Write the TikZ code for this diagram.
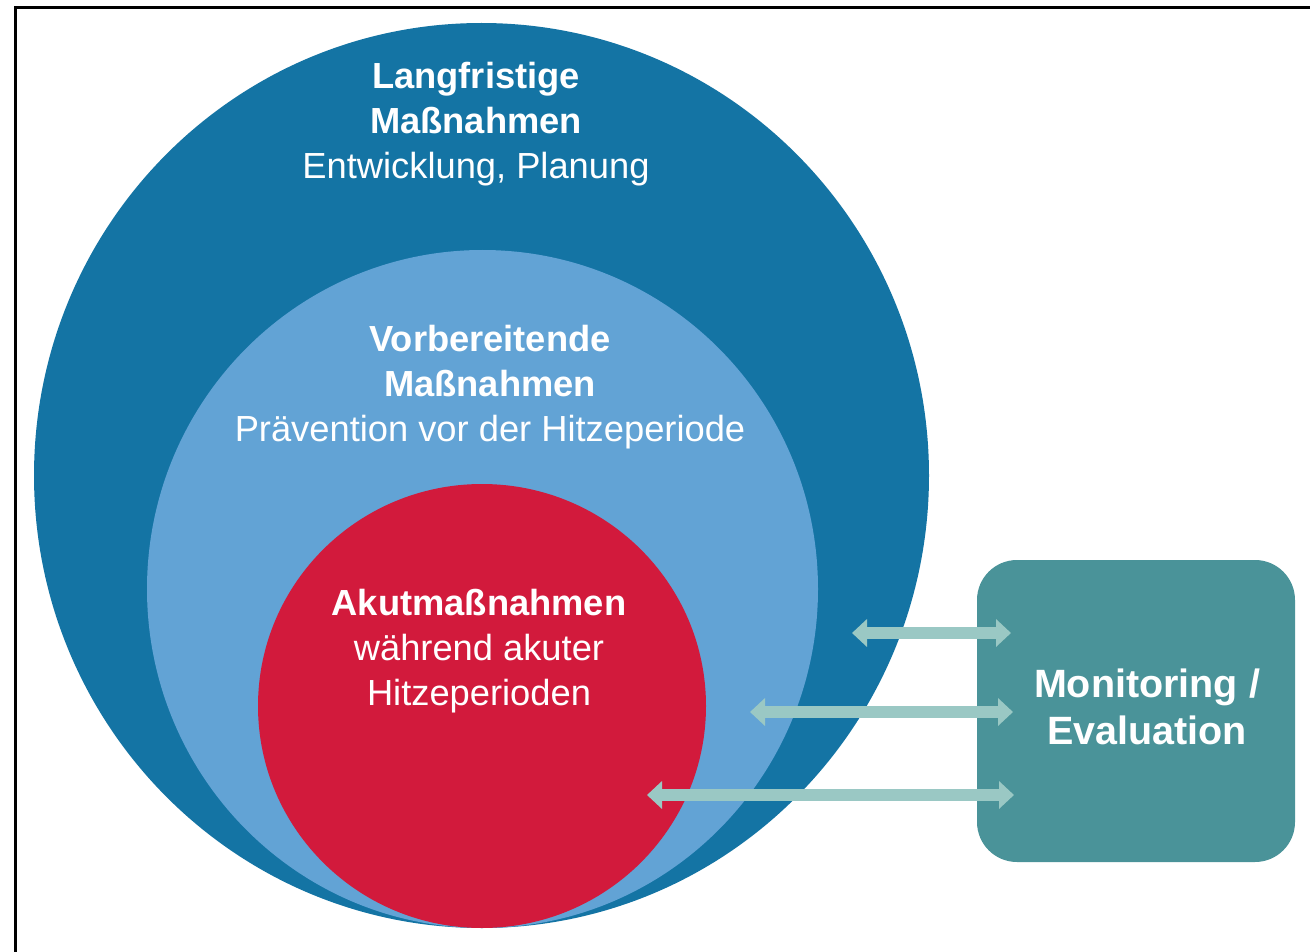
\documentclass[tikz,border=0pt]{standalone}
\usepackage{fontspec}
\setmainfont{Liberation Sans}
\usetikzlibrary{arrows.meta,shapes.geometric}
\definecolor{darkblue}{HTML}{1474A4}
\definecolor{lightblue}{HTML}{62A3D5}
\definecolor{acutered}{HTML}{D21A3C}
\definecolor{boxteal}{HTML}{4A9399}
\definecolor{arrowteal}{HTML}{9AC8C4}
\tikzset{
  ring/.style={ellipse, inner sep=0pt, draw=none},
  circtext/.style={text=white, align=center, font=\fontsize{36.3}{45.3}\selectfont},
  boxtext/.style={text=white, align=center, font=\fontsize{39.5}{47.4}\selectfont\bfseries},
  biarrow/.style={draw=arrowteal, line width=12.5pt,
    {Triangle[length=15pt,width=27pt]}-{Triangle[length=15pt,width=27pt]}},
  frameline/.style={draw=black, line width=3pt}
}
\begin{document}
\begin{tikzpicture}[x=1pt,y=-1pt]
\useasboundingbox (0,0) rectangle (1310,952);
\fill[white] (0,0) rectangle (1310,952);
% frame (only top and left visible)
\coordinate (ftl) at (15,7.5);
\coordinate (ftr) at (1310,7.5);
\coordinate (fbl) at (15,952);
\draw[frameline] (fbl) -- (ftl) -- (ftr);
% circles
\node[ring, fill=darkblue, minimum width=895pt, minimum height=905pt] (outer) at (481.5,475.5) {};
\node[ring, fill=lightblue, minimum width=671pt, minimum height=678pt] (middle) at (482.5,589) {};
\node[ring, fill=acutered, minimum width=448pt, minimum height=444pt] (inner) at (482,706) {};
% texts
\node[circtext] (t1) at (476,124) {\textbf{Langfristige}\\\textbf{Maßnahmen}\\Entwicklung, Planung};
\node[circtext] (t2) at (490,387) {\textbf{Vorbereitende}\\\textbf{Maßnahmen}\\Prävention vor der Hitzeperiode};
\node[circtext] (t3) at (479,651) {\textbf{Akutmaßnahmen}\\während akuter\\Hitzeperioden};
% monitoring box
\node[fill=boxteal, rounded corners=40pt, minimum width=318pt, minimum height=302pt, inner sep=0pt] (box) at (1136,711) {};
\node[boxtext] (boxlabel) at (1147,707) {Monitoring /\\Evaluation};
% arrows
\coordinate (a1l) at (852,633);
\coordinate (a1r) at (1011,633);
\coordinate (a2l) at (750,712);
\coordinate (a2r) at (1013,712);
\coordinate (a3l) at (647,795);
\coordinate (a3r) at (1014,795);
\draw[biarrow] (a1l) -- (a1r);
\draw[biarrow] (a2l) -- (a2r);
\draw[biarrow] (a3l) -- (a3r);
\end{tikzpicture}
\end{document}
